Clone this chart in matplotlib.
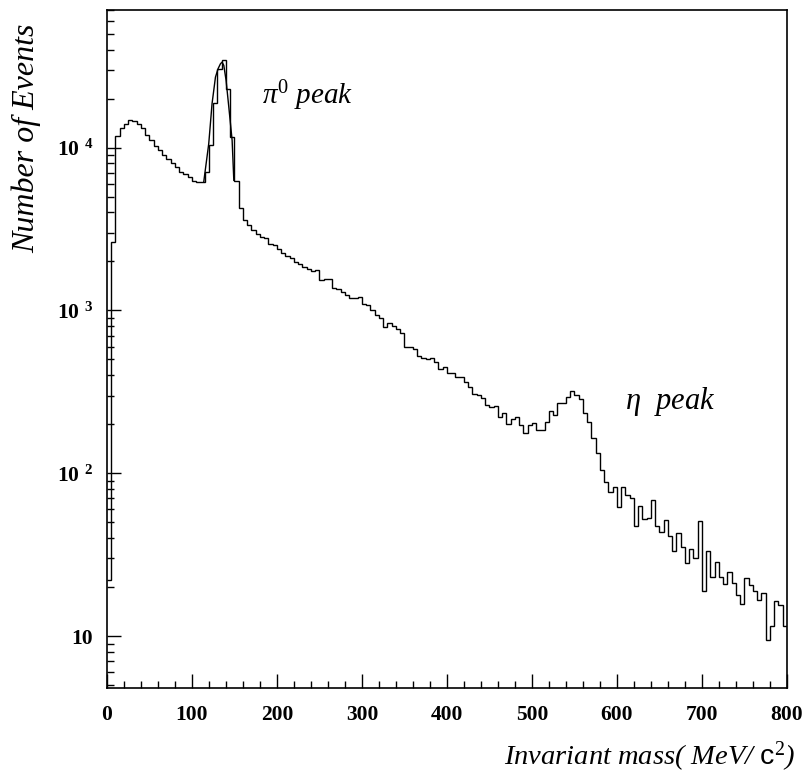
import numpy as np
import matplotlib
matplotlib.use("Agg")
import matplotlib.pyplot as plt
from matplotlib.ticker import FixedLocator, NullFormatter, MultipleLocator

plt.rcParams['font.family'] = ['Liberation Serif', 'DejaVu Serif']
plt.rcParams['mathtext.fontset'] = 'custom'
plt.rcParams['mathtext.rm'] = 'Liberation Serif'
plt.rcParams['mathtext.it'] = 'Liberation Serif:italic'
plt.rcParams['mathtext.bf'] = 'Liberation Serif:bold'
plt.rcParams['mathtext.sf'] = 'Liberation Sans'

# histogramme, 160 bins de 5 MeV entre 0 et 800
bin_width = 5
x_min, x_max = 0, 800
counts = [
    22, 2640, 11800, 13200, 13960, 14700, 14500, 14000, 13200, 11900,
    11200, 10300, 9720, 9060, 8560, 8050, 7570, 7130, 6860, 6600,
    6280, 6180, 6150, 7050, 10400, 18700, 30500, 34700, 23000, 11600,
    6200, 4280, 3614, 3336, 3109, 2966, 2829, 2789, 2576, 2515,
    2400, 2257, 2154, 2113, 1970, 1942, 1852, 1809, 1742, 1784,
    1534, 1563, 1563, 1383, 1351, 1301, 1241, 1184, 1184, 1201,
    1088, 1078, 1004, 936, 893, 793, 840, 801, 764, 722,
    598, 595, 576, 524, 507, 500, 512, 484, 434, 447,
    414, 411, 392, 388, 365, 337, 305, 304, 288, 262,
    256, 259, 223, 236, 201, 214, 223, 198, 176, 198,
    204, 184, 184, 207, 242, 228, 269, 271, 292, 321,
    302, 284, 233, 207, 164, 133, 105, 88.9, 77.2, 82.8,
    62.4, 82, 73.6, 70.2, 47.5, 63.0, 52.2, 52.9, 68.6, 47.5,
    43.8, 51.7, 41.2, 33.1, 43.2, 35.1, 28.0, 34.2, 30.1, 51.0,
    18.8, 33.1, 23.2, 28.7, 23.0, 20.9, 24.9, 21.1, 17.9, 15.8,
    22.7, 20.6, 18.8, 16.7, 18.5, 9.4, 11.5, 16.5, 15.6, 11.5,
]

# courbe d'ajustement sur le pic du pi0 (points lus)
fit_mev = [113.8, 119.7, 123.6, 127.6, 130.7, 133.5, 135.4, 137.4, 140.1, 143.3, 147.2, 149.2]
fit_counts = [6150, 10580, 18640, 27100, 30540, 32740, 33500, 31990, 25880, 17750, 11090, 6300]

y_min, y_max = 4.8, 7.0e4
decades = [10, 100, 1000, 10000]
decade_labels = ['10', '10 $^{\\mathbf{2}}$', '10 $^{\\mathbf{3}}$', '10 $^{\\mathbf{4}}$']

edges = np.arange(x_min, x_max + bin_width, bin_width)

fig = plt.figure(figsize=(8.03, 7.76), dpi=100)
ax = fig.add_axes([107 / 803, 1 - 688 / 776, 680 / 803, 678 / 776])

ax.stairs(counts, edges, color='black', lw=1.0, baseline=None)
ax.plot(fit_mev, fit_counts, color='black', lw=1.0)

ax.set_yscale('log')
ax.set_xlim(x_min, x_max)
ax.set_ylim(y_min, y_max)

ax.xaxis.set_major_locator(MultipleLocator(100))
ax.xaxis.set_minor_locator(MultipleLocator(20))
ax.yaxis.set_major_locator(FixedLocator(decades))
ax.set_yticklabels(decade_labels)
minor = [m * d for d in [1, 10, 100, 1000, 10000] for m in range(2, 10)]
ax.yaxis.set_minor_locator(FixedLocator(minor))
ax.yaxis.set_minor_formatter(NullFormatter())

ax.tick_params(which='both', direction='in', top=False, right=False, width=1.0)
ax.tick_params(which='major', length=10)
ax.tick_params(which='minor', length=5)
ax.tick_params(axis='x', which='major', pad=12, labelsize=15.5)
ax.tick_params(axis='y', which='major', pad=10, labelsize=15.5)
for lab in ax.get_xticklabels() + ax.get_yticklabels():
    lab.set_fontweight('bold')

for sp in ax.spines.values():
    sp.set_linewidth(1.2)

ax.text(182, 20900, '$\\pi^{\\mathit{0}}$ peak', fontsize=21, style='italic', va='center')
ax.text(609, 274, '$\\eta$  peak', fontsize=22, style='italic', va='center')

fig.text(795 / 803, 1 - 757 / 776, 'Invariant mass( MeV/ $\\mathsf{c}^{\\mathit{2}}$)',
         fontsize=20.5, style='italic', ha='right', va='center')
fig.text(26 / 803, 1 - 138 / 776, 'Number of Events', fontsize=23, style='italic',
         rotation=90, ha='center', va='center')

fig.savefig('out.png', dpi=100)
